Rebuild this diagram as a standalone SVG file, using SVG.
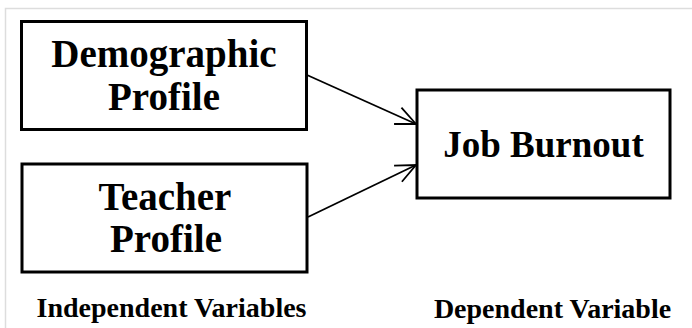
<svg xmlns="http://www.w3.org/2000/svg" width="692" height="328" viewBox="0 0 692 328">
  <style>
    .box { fill: #ffffff; stroke: #000000; stroke-width: 3; }
    .t { font-family: "Liberation Serif", "Times New Roman", serif; font-weight: bold; fill: #000000; text-anchor: middle; }
    .big { font-size: 39px; }
    .lab { font-size: 28px; }
    .conn { stroke: #000000; stroke-width: 1.8; fill: none; }
  </style>
  <defs>
    <marker id="arrow" viewBox="0 0 24 24" refX="22" refY="12" markerWidth="24" markerHeight="24" markerUnits="userSpaceOnUse" orient="auto">
      <path d="M2,3 L22,12 L2,21" fill="none" stroke="#000000" stroke-width="1.8"/>
    </marker>
  </defs>
  <rect width="692" height="328" fill="#ffffff"/>
  <path d="M5.5,328 L5.5,8.5 L692,8.5" fill="none" stroke="#dddddd" stroke-width="1.5"/>

  <g id="node-demographic">
    <rect class="box" x="21.5" y="21.5" width="285" height="108"/>
    <text class="t big" x="164" y="67">Demographic</text>
    <text class="t big" x="164" y="110">Profile</text>
  </g>
  <g id="node-teacher">
    <rect class="box" x="22" y="164" width="285" height="108"/>
    <text class="t big" x="165" y="210">Teacher</text>
    <text class="t big" x="166" y="252">Profile</text>
  </g>
  <g id="node-burnout">
    <rect class="box" x="417" y="90" width="253" height="108"/>
    <text class="t" x="543.5" y="157" font-size="37px">Job Burnout</text>
  </g>

  <g id="connectors">
    <line class="conn" x1="307" y1="75" x2="416" y2="124" marker-end="url(#arrow)"/>
    <line class="conn" x1="308" y1="217" x2="416" y2="165" marker-end="url(#arrow)"/>
  </g>

  <g id="labels">
    <text class="t lab" x="171.5" y="317">Independent Variables</text>
    <text class="t lab" x="552.5" y="318">Dependent Variable</text>
  </g>
</svg>
